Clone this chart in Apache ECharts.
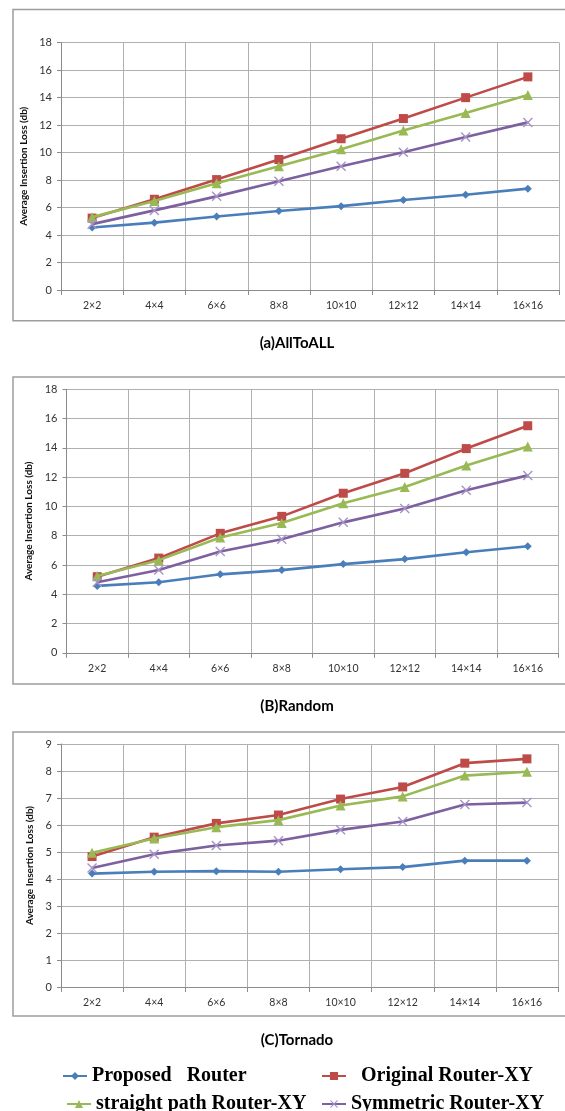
<!DOCTYPE html>
<html>
<head>
<meta charset="utf-8">
<title>Average Insertion Loss</title>
<script src="https://cdn.jsdelivr.net/npm/echarts@6/dist/echarts.min.js"></script>
<style>
  html, body { margin: 0; padding: 0; background: #ffffff; }
  #chart { width: 565px; height: 1111px; }
</style>
</head>
<body>
<div id="chart"></div>
<script>
// Mesh sizes on the x axis
const categories = ['2×2', '4×4', '6×6', '8×8', '10×10', '12×12', '14×14', '16×16'];

// Series names
const seriesNames = ['Proposed   Router', 'Original Router-XY', 'straight path Router-XY', 'Symmetric Router-XY'];

// (a) AllToALL traffic, average insertion loss (db)
const allToAllProposed  = [4.55, 4.90, 5.35, 5.74, 6.10, 6.55, 6.93, 7.37];
const allToAllOriginal  = [5.23, 6.60, 8.03, 9.49, 11.00, 12.47, 13.99, 15.50];
const allToAllStraight  = [5.30, 6.47, 7.76, 9.00, 10.24, 11.60, 12.87, 14.18];
const allToAllSymmetric = [4.79, 5.79, 6.81, 7.91, 9.00, 10.02, 11.12, 12.19];

// (B) Random traffic
const randomProposed  = [4.57, 4.82, 5.36, 5.65, 6.06, 6.40, 6.87, 7.28];
const randomOriginal  = [5.20, 6.47, 8.16, 9.32, 10.90, 12.26, 13.95, 15.51];
const randomStraight  = [5.25, 6.33, 7.87, 8.86, 10.22, 11.33, 12.80, 14.09];
const randomSymmetric = [4.82, 5.65, 6.92, 7.76, 8.91, 9.86, 11.10, 12.12];

// (C) Tornado traffic
const tornadoProposed  = [4.20, 4.27, 4.29, 4.27, 4.36, 4.44, 4.68, 4.68];
const tornadoOriginal  = [4.83, 5.55, 6.06, 6.37, 6.96, 7.41, 8.29, 8.45];
const tornadoStraight  = [4.97, 5.50, 5.92, 6.18, 6.72, 7.06, 7.83, 7.97];
const tornadoSymmetric = [4.41, 4.92, 5.24, 5.42, 5.82, 6.13, 6.76, 6.83];

// Y-axis ranges for the three panels
const yMax = [18, 18, 9];
const yStep = [2, 2, 1];

// Panel captions
const captions = ['(a)AllToALL', '(B)Random', '(C)Tornado'];

const panelData = [
  [allToAllProposed, allToAllOriginal, allToAllStraight, allToAllSymmetric],
  [randomProposed, randomOriginal, randomStraight, randomSymmetric],
  [tornadoProposed, tornadoOriginal, tornadoStraight, tornadoSymmetric]
];

// Styling
const lineColors   = ['#4A7EBB', '#BE4B48', '#98B954', '#7D60A0'];
const markerColors = ['#4A7EBB', '#BE4B48', '#98B954', '#A693C8'];
const crossPath = 'path://M1,0 L5,4 L9,0 L10,1 L6,5 L10,9 L9,10 L5,6 L1,10 L0,9 L4,5 L0,1 Z';
const symbols     = ['diamond', 'rect', 'triangle', crossPath];
const symbolSizes = [8, 9, 10, 10];

const panels = [
  { grid: { left: 61, top: 42.5, width: 498, height: 247.5 }, box: [13, 9.5, 320.7], nameGap: 30, caption: 343 },
  { grid: { left: 66.5, top: 389.3, width: 492, height: 263.5 }, box: [13, 377, 684], nameGap: 30, caption: 706 },
  { grid: { left: 61, top: 744, width: 497, height: 243 }, box: [13, 732, 1016], nameGap: 25, caption: 1040 }
];

const axisFont = 'Lato, "Liberation Sans", sans-serif';
const gridColor = '#b0b0b0';

const grids = [], xAxes = [], yAxes = [], series = [], graphics = [];

panels.forEach((p, i) => {
  grids.push(Object.assign({ containLabel: false }, p.grid));

  xAxes.push({
    type: 'category',
    gridIndex: i,
    data: categories,
    boundaryGap: true,
    axisLine: { show: true, lineStyle: { color: '#8c8c8c', width: 1 } },
    axisTick: { show: true, length: 5, alignWithLabel: false, lineStyle: { color: '#8c8c8c' } },
    axisLabel: { color: '#333', fontSize: 10.5, fontFamily: axisFont, margin: 10 },
    splitLine: { show: true, lineStyle: { color: gridColor, width: 1 } }
  });

  yAxes.push({
    type: 'value',
    gridIndex: i,
    min: 0,
    max: yMax[i],
    interval: yStep[i],
    name: 'Average Insertion Loss (db)',
    nameLocation: 'middle',
    nameGap: p.nameGap,
    nameTextStyle: { color: '#111', fontSize: 10, fontWeight: 'bold', fontFamily: axisFont },
    axisLine: { show: true, lineStyle: { color: '#8c8c8c', width: 1 } },
    axisTick: { show: true, length: 4, lineStyle: { color: '#8c8c8c' } },
    axisLabel: { color: '#333', fontSize: 11, fontFamily: axisFont, margin: 9 },
    splitLine: { show: true, lineStyle: { color: gridColor, width: 1 } }
  });

  panelData[i].forEach((values, s) => {
    series.push({
      type: 'line',
      name: seriesNames[s],
      xAxisIndex: i,
      yAxisIndex: i,
      data: values,
      symbol: symbols[s],
      symbolSize: symbolSizes[s],
      showSymbol: true,
      lineStyle: { color: lineColors[s], width: 2.6 },
      itemStyle: { color: markerColors[s] },
      z: 2 + s,
      animation: false
    });
  });

  // Frame around each panel
  graphics.push({
    type: 'rect',
    shape: { x: p.box[0], y: p.box[1], width: 600, height: p.box[2] - p.box[1] },
    style: { fill: 'none', stroke: '#9d9d9d', lineWidth: 1.5 },
    z: -1,
    silent: true
  });

  // Caption under each panel
  graphics.push({
    type: 'text',
    x: 297,
    y: p.caption,
    style: {
      text: captions[i],
      fill: '#000',
      font: 'bold 15px ' + axisFont,
      textAlign: 'center',
      textVerticalAlign: 'middle'
    },
    silent: true
  });
});

const legendText = { color: '#000', fontSize: 20, fontWeight: 'bold', fontFamily: '"Liberation Serif", "Times New Roman", serif' };
const legendBase = { orient: 'horizontal', itemWidth: 24, itemHeight: 10, textStyle: legendText, selectedMode: false };

const legends = [
  Object.assign({}, legendBase, { data: [seriesNames[0]], left: 57,  top: 1061 }),
  Object.assign({}, legendBase, { data: [seriesNames[1]], left: 316, top: 1061, formatter: '  {name}' }),
  Object.assign({}, legendBase, { data: [seriesNames[2]], left: 61,  top: 1089 }),
  Object.assign({}, legendBase, { data: [seriesNames[3]], left: 316, top: 1089 })
];

const chart = echarts.init(document.getElementById('chart'), null, { renderer: 'canvas' });
chart.setOption({
  backgroundColor: '#ffffff',
  animation: false,
  grid: grids,
  xAxis: xAxes,
  yAxis: yAxes,
  legend: legends,
  graphic: graphics,
  series: series
});
</script>
</body>
</html>
